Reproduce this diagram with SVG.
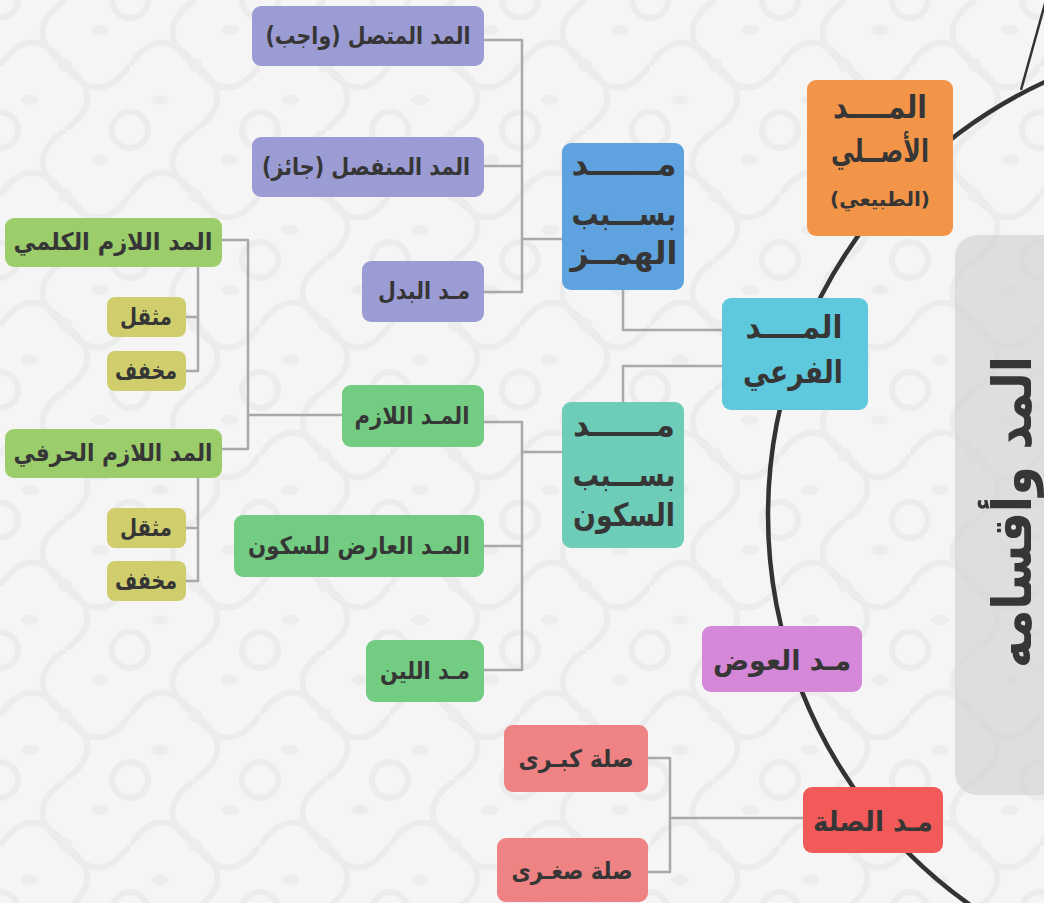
<svg xmlns="http://www.w3.org/2000/svg" width="1044" height="903" viewBox="0 0 1044 903">
<defs>
<pattern id="bgp" x="0" y="0" width="130" height="130" patternUnits="userSpaceOnUse">
<rect width="130" height="130" fill="#f5f5f5"/>
<g fill="none" stroke="#ececec" stroke-width="6">
<path d="M0 65 Q32 20 65 65 Q98 110 130 65"/>
<path d="M65 0 Q20 32 65 65 Q110 98 65 130"/>
<circle cx="0" cy="0" r="18"/><circle cx="130" cy="0" r="18"/><circle cx="0" cy="130" r="18"/><circle cx="130" cy="130" r="18"/>
</g>
<g fill="#ededed"><circle cx="65" cy="65" r="7"/><ellipse cx="30" cy="100" rx="9" ry="5"/><ellipse cx="100" cy="30" rx="9" ry="5"/></g>
</pattern>
<style>
.n{stroke:none}
.t{font-family:"DejaVu Sans",sans-serif;font-weight:bold;fill:#363636;text-anchor:middle}
.s24{font-size:24px}.s20{font-size:20px}.s28{font-size:28px}.s32{font-size:32px}
.c{fill:none;stroke:#a9a9a9;stroke-width:2.5;stroke-linejoin:round}
</style>
</defs>
<rect width="1044" height="903" fill="url(#bgp)"/>
<g id="title">
<rect x="955" y="235" width="110" height="560" rx="22" fill="#d6d6d6" opacity="0.75"/>
<text class="t" font-size="54" transform="translate(1031,512) rotate(-90)" textLength="312" lengthAdjust="spacingAndGlyphs">المد وأقسامه</text>
</g>
<g id="arc">
<circle cx="1245" cy="515" r="477" fill="none" stroke="#333" stroke-width="4.5"/>
<line x1="1021" y1="90" x2="1046" y2="0" stroke="#333" stroke-width="2.5"/>
</g>
<g id="connectors">
<path class="c" d="M484 40 H522 V292 H484 M484 166 H522 M522 239 H562"/>
<path class="c" d="M623 290 V330 H722 M722 366 H623 V402"/>
<path class="c" d="M484 422 H522 V670 H484 M484 546 H522 M522 452 H562"/>
<path class="c" d="M342 415 H248 M222 240 H248 V449 H222"/>
<path class="c" d="M198 267 V371 H186 M198 317 H186 M198 478 V581 H186 M198 528 H186"/>
<path class="c" d="M648 758 H670 V872 H648 M670 818 H803"/>
</g>
<g id="n-asli"><rect class="n" x="807" y="80" width="146" height="156" rx="9" fill="#f39549"/>
<text class="t s32" x="880" y="118" textLength="94" lengthAdjust="spacingAndGlyphs">المــــد</text><text class="t s32" x="880" y="162" textLength="98" lengthAdjust="spacingAndGlyphs">الأصــلي</text><text class="t s20" x="880" y="206" textLength="100" lengthAdjust="spacingAndGlyphs">(الطبيعي)</text></g>
<g id="n-far"><rect class="n" x="722" y="298" width="146" height="112" rx="9" fill="#5ec8dc"/>
<text class="t s32" x="794" y="338" textLength="97" lengthAdjust="spacingAndGlyphs">المــــد</text><text class="t s32" x="793" y="383" textLength="100" lengthAdjust="spacingAndGlyphs">الفرعي</text></g>
<g id="n-hamz"><rect class="n" x="562" y="143" width="122" height="147" rx="9" fill="#5ea3df"/>
<text class="t s32" x="624" y="175" textLength="105" lengthAdjust="spacingAndGlyphs">مــــــد</text><text class="t s32" x="624" y="225" textLength="105" lengthAdjust="spacingAndGlyphs">بســـبب</text><text class="t s32" x="624" y="264" textLength="107" lengthAdjust="spacingAndGlyphs">الهمــز</text></g>
<g id="n-sukun"><rect class="n" x="562" y="402" width="122" height="146" rx="9" fill="#6dcdb8"/>
<text class="t s32" x="624" y="436" textLength="102" lengthAdjust="spacingAndGlyphs">مــــــد</text><text class="t s32" x="624" y="486" textLength="103" lengthAdjust="spacingAndGlyphs">بســـبب</text><text class="t s32" x="624" y="526" textLength="102" lengthAdjust="spacingAndGlyphs">السكون</text></g>
<g id="n-muttasil"><rect class="n" x="252" y="6" width="232" height="60" rx="9" fill="#9c9cd4"/><text class="t s24" x="368" y="44" textLength="205" lengthAdjust="spacingAndGlyphs">المد المتصل (واجب)</text></g>
<g id="n-munfasil"><rect class="n" x="252" y="137" width="232" height="60" rx="9" fill="#9c9cd4"/><text class="t s24" x="366" y="175" textLength="208" lengthAdjust="spacingAndGlyphs">المد المنفصل (جائز)</text></g>
<g id="n-badal"><rect class="n" x="362" y="261" width="122" height="61" rx="9" fill="#9c9cd4"/><text class="t s24" x="424" y="299" textLength="92" lengthAdjust="spacingAndGlyphs">مـد البدل</text></g>
<g id="n-lazim"><rect class="n" x="342" y="385" width="142" height="62" rx="9" fill="#72cc82"/><text class="t s24" x="412" y="424" textLength="115" lengthAdjust="spacingAndGlyphs">المـد اللازم</text></g>
<g id="n-arid"><rect class="n" x="234" y="515" width="250" height="62" rx="9" fill="#72cc82"/><text class="t s24" x="359" y="554" textLength="222" lengthAdjust="spacingAndGlyphs">المـد العارض للسكون</text></g>
<g id="n-lin"><rect class="n" x="366" y="640" width="118" height="62" rx="9" fill="#72cc82"/><text class="t s24" x="425" y="679" textLength="90" lengthAdjust="spacingAndGlyphs">مـد اللين</text></g>
<g id="n-kalimi"><rect class="n" x="5" y="218" width="217" height="49" rx="9" fill="#9ccd6b"/><text class="t s24" x="113" y="250" textLength="199" lengthAdjust="spacingAndGlyphs">المد اللازم الكلمي</text></g>
<g id="n-harfi"><rect class="n" x="5" y="429" width="217" height="49" rx="9" fill="#9ccd6b"/><text class="t s24" x="113" y="461" textLength="199" lengthAdjust="spacingAndGlyphs">المد اللازم الحرفي</text></g>
<g id="n-muthaqqal1"><rect class="n" x="107" y="297" width="79" height="40" rx="8" fill="#d0ce6c"/><text class="t s24" x="146" y="325" textLength="52" lengthAdjust="spacingAndGlyphs">مثقل</text></g>
<g id="n-mukhaffaf1"><rect class="n" x="107" y="351" width="79" height="40" rx="8" fill="#d0ce6c"/><text class="t s24" x="146" y="379" textLength="62" lengthAdjust="spacingAndGlyphs">مخفف</text></g>
<g id="n-muthaqqal2"><rect class="n" x="107" y="508" width="79" height="40" rx="8" fill="#d0ce6c"/><text class="t s24" x="146" y="536" textLength="52" lengthAdjust="spacingAndGlyphs">مثقل</text></g>
<g id="n-mukhaffaf2"><rect class="n" x="107" y="561" width="79" height="40" rx="8" fill="#d0ce6c"/><text class="t s24" x="146" y="589" textLength="62" lengthAdjust="spacingAndGlyphs">مخفف</text></g>
<g id="n-iwad"><rect class="n" x="702" y="626" width="160" height="66" rx="9" fill="#d587d8"/><text class="t s28" x="782" y="670" textLength="138" lengthAdjust="spacingAndGlyphs">مـد العوض</text></g>
<g id="n-sila"><rect class="n" x="803" y="787" width="140" height="66" rx="9" fill="#f25a5a"/><text class="t s28" x="873" y="831" textLength="120" lengthAdjust="spacingAndGlyphs">مـد الصلة</text></g>
<g id="n-kubra"><rect class="n" x="504" y="725" width="144" height="67" rx="9" fill="#ef8282"/><text class="t s24" x="576" y="767" textLength="115" lengthAdjust="spacingAndGlyphs">صلة كبـرى</text></g>
<g id="n-sughra"><rect class="n" x="497" y="838" width="151" height="64" rx="9" fill="#ef8282"/><text class="t s24" x="572" y="879" textLength="121" lengthAdjust="spacingAndGlyphs">صلة صغـرى</text></g>
</svg>
